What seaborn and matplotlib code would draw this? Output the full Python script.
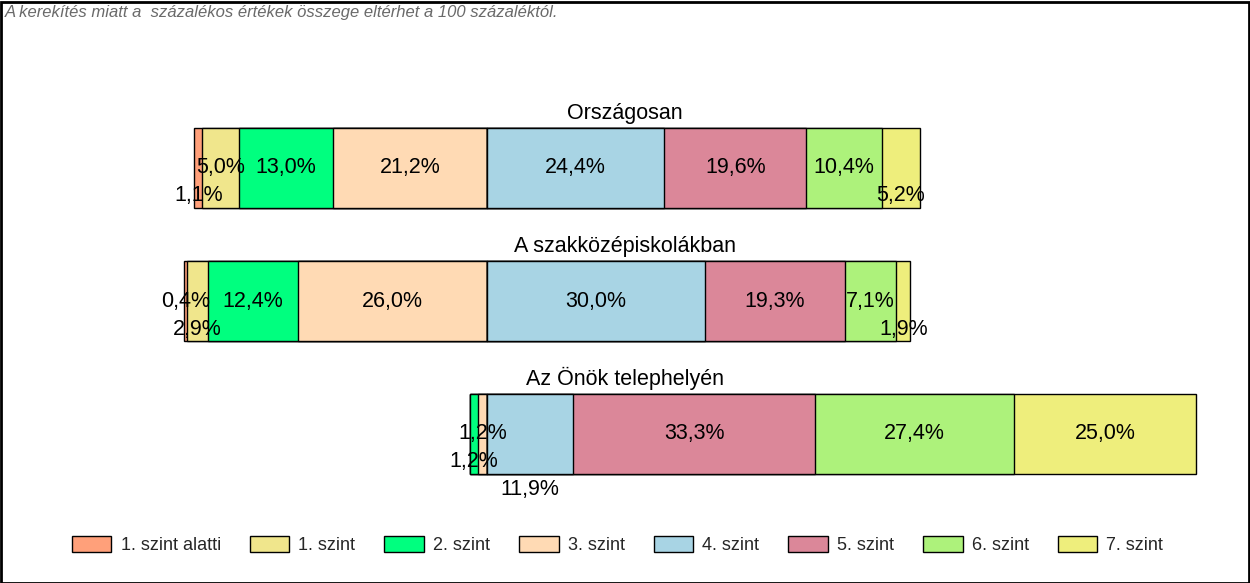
import numpy as np
import pandas as pd
import matplotlib
matplotlib.use("Agg")
import matplotlib.pyplot as plt
import matplotlib.patches as mpatches
import seaborn as sns

# ---------------- data ----------------
categories = ["Országosan", "A szakközépiskolákban", "Az Önök telephelyén"]
levels = ["1. szint alatti", "1. szint", "2. szint", "3. szint",
          "4. szint", "5. szint", "6. szint", "7. szint"]
orszagosan = [1.1, 5.0, 13.0, 21.2, 24.4, 19.6, 10.4, 5.2]
szakkozep = [0.4, 2.9, 12.4, 26.0, 30.0, 19.3, 7.1, 1.9]
telephely = [0.0, 0.0, 1.2, 1.2, 11.9, 33.3, 27.4, 25.0]
note = "A kerekítés miatt a  százalékos értékek összege eltérhet a 100 százaléktól."

# ---------------- style ----------------
colors = ["#FFA07A", "#F0E68C", "#00FF7F", "#FFDAB4",
          "#A8D4E4", "#DB8799", "#ADF27B", "#EEEE7C"]
# vertical stagger level of each value label (0 = bar centre)
label_rows = [
    [1, 0, 0, 0, 0, 0, 0, 1],
    [0, 1, 0, 0, 0, 0, 0, 1],
    [0, 0, 1, 0, 2, 0, 0, 0],
]
n_left = 4  # levels drawn to the left of the zero line

series = [orszagosan, szakkozep, telephely]

sns.set_theme(style="white")
plt.rcParams["font.family"] = ["Liberation Sans", "DejaVu Sans"]

W, H = 1250, 583
fig = plt.figure(figsize=(W / 100, H / 100), dpi=100)
ax = fig.add_axes([0, 0, 1, 1])

px_per_pct = 7.26
zero_px = 487
xmin = -zero_px / px_per_pct
xmax = (W - zero_px) / px_per_pct
row_px = 133
first_center_px = 168
ymin = (0 - first_center_px) / row_px
ymax = (H - first_center_px) / row_px

# cumulative overlap drawing (outermost first)
order = list(range(0, n_left)) + list(range(len(levels) - 1, n_left - 1, -1))
for i in order:
    cums = []
    for vals in series:
        if i < n_left:
            cums.append(-sum(vals[i:n_left]))
        else:
            cums.append(sum(vals[n_left:i + 1]))
    df = pd.DataFrame({"cat": categories, "cum": cums})
    sns.barplot(data=df, x="cum", y="cat", orient="h", color=colors[i],
                saturation=1, width=0.6, edgecolor="black", linewidth=1.0,
                errorbar=None, ax=ax)

# value labels
row_step = 28 / row_px
for r, vals in enumerate(series):
    left = -sum(vals[:n_left])
    for i, v in enumerate(vals):
        if v > 0:
            xc = left + v / 2
            yc = r + label_rows[r][i] * row_step
            ax.text(xc, yc, f"{v:.1f}".replace(".", ",") + "%",
                    ha="center", va="center", fontsize=15.5, color="black")
        left += v

# titles
trans = matplotlib.transforms.blended_transform_factory(ax.transAxes, ax.transData)
for r, name in enumerate(categories):
    ax.text(0.5, r - 0.3 - 9 / row_px, name, transform=trans,
            ha="center", va="baseline", fontsize=15.5, color="black")

ax.set_xlim(xmin, xmax)
ax.set_ylim(ymax, ymin)
ax.axis("off")

# note
fig.text(5 / W, 1 - 13 / H, note, ha="left", va="center", fontsize=12,
         style="italic", color="#6a6a6a")

# legend
handles = [mpatches.Patch(facecolor=c, edgecolor="black", linewidth=1.0, label=l)
           for c, l in zip(colors, levels)]
fig.legend(handles=handles, loc="center", bbox_to_anchor=(0.494, (H - 545) / H),
           ncol=8, frameon=False, fontsize=13, handlelength=2.2,
           handleheight=0.95, handletextpad=0.5, columnspacing=1.6)

# outer border
fig.patches.append(mpatches.Rectangle((0.5 / W, 0.5 / H), 1 - 2 / W, 1 - 2 / H,
                                      transform=fig.transFigure, fill=False,
                                      edgecolor="black", linewidth=2))

fig.savefig("out.png", dpi=100)
